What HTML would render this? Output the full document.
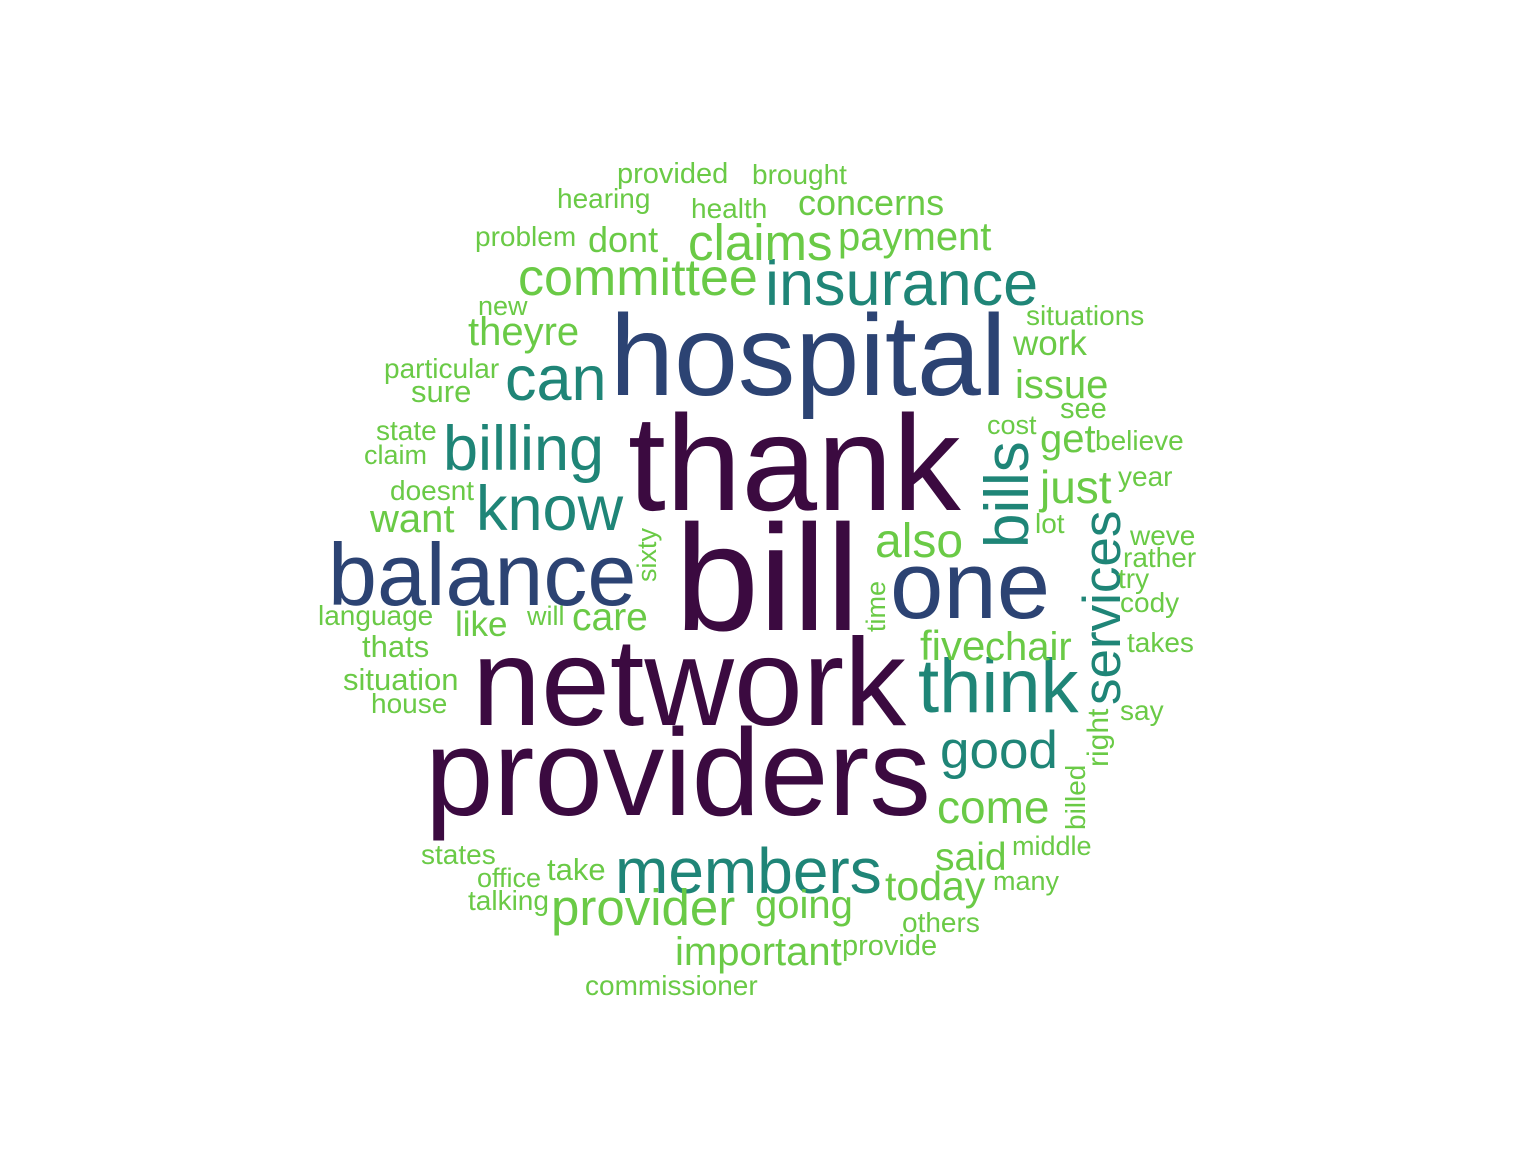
<!DOCTYPE html>
<html>
<head>
<meta charset="utf-8">
<style>
  html,body{margin:0;padding:0;background:#fff;}
  svg text{font-family:"Liberation Sans",Arial,sans-serif;}
</style>
</head>
<body>
<svg id="cloud" width="1536" height="1152" viewBox="0 0 1536 1152" xmlns="http://www.w3.org/2000/svg">
  <rect width="1536" height="1152" fill="#ffffff"/>
  <g id="words"></g>
</svg>
<script>
const words = ["thank","bill","network","providers","hospital","balance","one","insurance","members","think","bills","services","billing","know","can","good","committee","claims","provider","theyre","also","come","important","going","today","said","payment","concerns","dont","want","just","get","issue","work","five","chair","care","like","thats","situation","house","language","will","sixty","time","right","billed","particular","sure","state","claim","doesnt","new","problem","hearing","provided","brought","health","situations","see","cost","believe","year","lot","weve","rather","try","cody","takes","say","middle","many","others","provide","commissioner","states","office","talking","take"];
const freqs = [136,151,124,123,115,88,96,63,64,76,62,53,63,63,63,53,52,51,51,40,48,46,40,40,41,39,40,36,36,40,46,40,40,35,42,40,39,35,31,31,28,28,27,27,27,30,28,28,31,28,27,28,27,28,28,29,28,28,28,29,27,28,28,28,28,28,28,28,28,28,27,27,28,29,28,28,27,28,31];
// layout (placement of each word: left x, baseline y, rotation)
const layoutX = [628,675,472,425,610,328,890,765,615,918,1028,1120,443,476,505,940,518,688,551,468,875,937,675,755,885,935,838,798,588,370,1040,1040,1015,1013,920,985,572,455,362,343,371,318,527,656,885,1108,1085,384,411,376,364,390,478,475,557,617,752,691,1026,1060,987,1095,1118,1035,1130,1123,1118,1120,1127,1120,1012,993,902,842,585,421,477,468,547];
const layoutY = [510,630,725,815,395,605,618,305,893,712,548,705,470,530,400,768,295,260,925,345,557,823,965,918,900,870,250,215,252,532,503,452,398,355,660,660,630,636,657,690,713,625,625,582,632,767,830,378,402,440,464,500,315,246,208,183,184,218,325,418,434,450,486,533,545,567,588,612,652,720,855,890,932,955,995,864,887,910,880];
const layoutRot = [0,0,0,0,0,0,0,0,0,0,-90,-90,0,0,0,0,0,0,0,0,0,0,0,0,0,0,0,0,0,0,0,0,0,0,0,0,0,0,0,0,0,0,0,-90,-90,-90,-90,0,0,0,0,0,0,0,0,0,0,0,0,0,0,0,0,0,0,0,0,0,0,0,0,0,0,0,0,0,0,0,0];

function sizeScale(f){ return f; }
function colorScale(f){
  if (f >= 120) return "#3b0a40";
  if (f >= 85) return "#2c4373";
  if (f >= 53) return "#1f8577";
  return "#6aca46";
}
const g = document.getElementById("words");
const NS = "http://www.w3.org/2000/svg";
for (let i = 0; i < words.length; i++) {
  const t = document.createElementNS(NS, "text");
  t.textContent = words[i];
  t.setAttribute("font-size", sizeScale(freqs[i]));
  t.setAttribute("fill", colorScale(freqs[i]));
  if (layoutRot[i] !== 0) {
    t.setAttribute("transform", "translate(" + layoutX[i] + "," + layoutY[i] + ") rotate(" + layoutRot[i] + ")");
    t.setAttribute("x", 0);
    t.setAttribute("y", 0);
  } else {
    t.setAttribute("x", layoutX[i]);
    t.setAttribute("y", layoutY[i]);
  }
  
  
  g.appendChild(t);
}
</script>
</body>
</html>
